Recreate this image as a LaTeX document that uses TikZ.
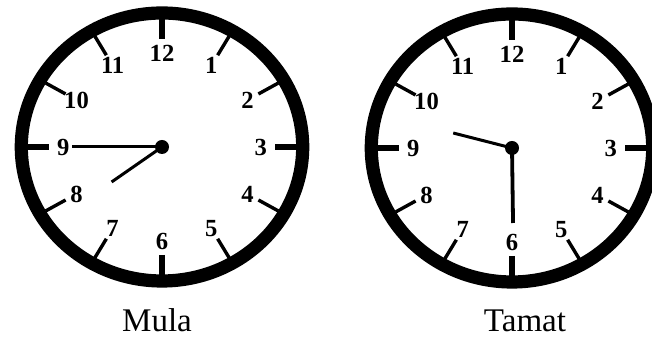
\documentclass[tikz,border=0pt]{standalone}
\usepackage{fontspec}
\setmainfont{Liberation Serif}
\usetikzlibrary{positioning}

% clock face: #1 = name prefix
\newcommand{\clockface}[1]{%
  \draw[ring] (0,0) circle (134);
  \foreach \h in {3,6,9,12}
    \draw[bigtick] ({90-30*\h}:108) -- ({90-30*\h}:128);
  \foreach \h in {1,2,4,5,7,8,10,11}
    \draw[smalltick] ({90-30*\h}:106) -- ({90-30*\h}:128);
  \foreach \h in {1,...,12}
    \node[num] (#1\h) at ({90-30*\h}:94) {\h};
  \node[hub] (#1hub) at (0,0) {};
}

\begin{document}
\begin{tikzpicture}[
  x=0.025cm, y=0.025cm,
  ring/.style={line width=0.33cm},                 % thick outer rim
  bigtick/.style={line width=0.13cm},
  smalltick/.style={line width=0.085cm},
  hand/.style={line width=0.075cm},
  hub/.style={circle, fill, inner sep=0pt, minimum size=0.35cm},
  num/.style={font=\fontsize{17.5}{17.5}\selectfont\bfseries, inner sep=0pt},
  caption/.style={font=\fontsize{23.5}{23.5}\selectfont, inner sep=0pt, anchor=base}
  ]
  \useasboundingbox (0,0) rectangle (652,340);

  % --- Mula (7:45) ---
  \begin{scope}[shift={(162,193)}, xscale=1.05]
    \clockface{m}
    \coordinate (mmin) at (-86,0);
    \coordinate (mhour) at (-48,-35);
    \draw[hand] (mhub.center) -- (mmin);
    \draw[hand] (mhub.center) -- (mhour);
  \end{scope}
  \node[caption] (mula) at (157,8) {Mula};

  % --- Tamat (9:30) ---
  \begin{scope}[shift={(512,192)}, xscale=1.05]
    \clockface{t}
    \coordinate (tmin) at (1,-75);
    \coordinate (thour) at (-56,15);
    \draw[hand, line width=0.095cm] (thub.center) -- (tmin);
    \draw[hand] (thub.center) -- (thour);
  \end{scope}
  \node[caption] (tamat) at (525,8) {Tamat};

\end{tikzpicture}
\end{document}
